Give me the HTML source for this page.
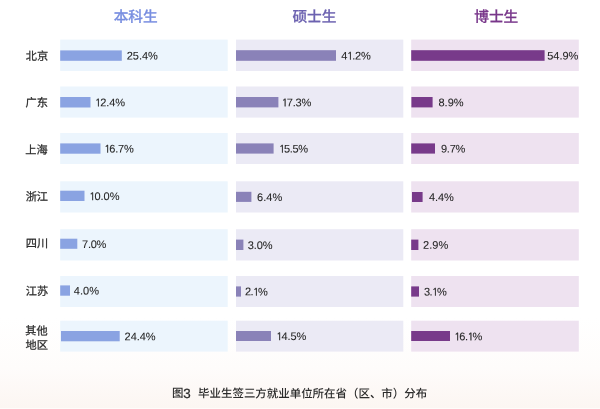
<!DOCTYPE html>
<html lang="zh-CN"><head><meta charset="utf-8"><title>图3 毕业生签三方就业单位所在省（区、市）分布</title>
<style>
html,body{margin:0;padding:0;}
body{width:600px;height:409px;overflow:hidden;position:relative;background:#fff;font-family:"Liberation Sans","Noto Sans CJK SC",sans-serif;color:#333;}
.page{position:absolute;left:0;top:0;width:600px;height:409px;overflow:hidden;background:linear-gradient(to bottom,#ffffff 0px,#ffffff 318px,#fefcfb 368px,#fcf6f2 407.5px,#fefcfa 408px,#fefcfa 409px);}
.chart{position:absolute;left:0;top:0;display:block;}
.val{position:absolute;left:0;top:0;transform-origin:0 0;font-size:11px;line-height:14px;height:14px;white-space:nowrap;color:#262626;-webkit-text-stroke:0.08px currentColor;}
.one{font-family:"NanumGothic",sans-serif;font-size:10.2px;-webkit-text-stroke:0.3px currentColor;margin-left:-0.2px;margin-right:-0.9px;}
.lab{position:absolute;left:0;top:0;transform-origin:0 0;font-size:11.2px;line-height:14px;white-space:nowrap;color:#2b2b2b;-webkit-text-stroke:0.25px currentColor;}
.hd{position:absolute;left:0;top:0;transform-origin:0 0;-webkit-text-stroke:0.25px currentColor;font-size:14.7px;line-height:20px;font-weight:500;white-space:nowrap;}
.n3{font-size:13.4px;line-height:1px;position:relative;top:0.5px;-webkit-text-stroke:0.25px currentColor;}
.cap{position:absolute;left:0;top:0;transform-origin:0 0;font-weight:500;font-size:11.46px;line-height:16px;white-space:nowrap;color:#2b2b2b;}
</style></head><body><div class="page">
<div class="hd" style="color:#788ee0;transform:translate(113.68px,6.77px) rotate(0.05deg);">本科生</div>
<div class="hd" style="color:#6c62b0;transform:translate(292.43px,6.83px) rotate(0.05deg);">硕士生</div>
<div class="hd" style="color:#78368a;transform:translate(474.22px,6.85px) rotate(0.05deg);">博士生</div>
<svg class="chart" width="600" height="409" viewBox="0 0 600 409">
<g fill="#ecf5fd"><rect x="60.2" y="39.6" width="167.5" height="31.4"/><rect x="60.2" y="86.5" width="167.5" height="31.1"/><rect x="60.2" y="133.0" width="167.5" height="31.0"/><rect x="60.2" y="181.3" width="167.5" height="31.2"/><rect x="60.2" y="229.2" width="167.5" height="31.3"/><rect x="60.2" y="276.0" width="167.5" height="31.0"/><rect x="60.2" y="320.7" width="167.5" height="30.9"/></g>
<g fill="#8aa3e2"><rect x="60.2" y="50.4" width="61.6" height="10.4"/><rect x="60.2" y="97.0" width="30.3" height="10.5"/><rect x="60.2" y="143.4" width="40.3" height="10.3"/><rect x="60.2" y="190.7" width="24.3" height="10.3"/><rect x="60.2" y="238.7" width="17.1" height="10.1"/><rect x="60.2" y="285.4" width="9.8" height="10.3"/><rect x="61.0" y="331.0" width="58.7" height="10.3"/></g>
<g fill="#ebeaf5"><rect x="236.0" y="39.6" width="167.3" height="31.4"/><rect x="236.0" y="86.5" width="167.3" height="31.1"/><rect x="236.0" y="133.0" width="167.3" height="31.0"/><rect x="236.0" y="181.3" width="167.3" height="31.2"/><rect x="236.0" y="229.2" width="167.3" height="31.3"/><rect x="236.0" y="276.0" width="167.3" height="31.0"/><rect x="236.0" y="320.7" width="167.3" height="30.9"/></g>
<g fill="#8a82b8"><rect x="236" y="50.2" width="100.0" height="10.6"/><rect x="236" y="97.0" width="42.4" height="10.4"/><rect x="236" y="143.4" width="37.6" height="10.2"/><rect x="236" y="191.8" width="15.4" height="10.1"/><rect x="236" y="239.6" width="7.4" height="10.4"/><rect x="236" y="286.4" width="5.0" height="10.2"/><rect x="236" y="331.0" width="35.0" height="10.0"/></g>
<g fill="#eee2f0"><rect x="411.2" y="39.6" width="167.6" height="31.4"/><rect x="411.2" y="86.5" width="167.6" height="31.1"/><rect x="411.2" y="133.0" width="167.6" height="31.0"/><rect x="411.2" y="181.3" width="167.6" height="31.2"/><rect x="411.2" y="229.2" width="167.6" height="31.3"/><rect x="411.2" y="276.0" width="167.6" height="31.0"/><rect x="411.2" y="320.7" width="167.6" height="30.9"/></g>
<g fill="#783a8a"><rect x="411.2" y="50.2" width="133.4" height="10.6"/><rect x="411.4" y="97.0" width="21.2" height="10.4"/><rect x="411.2" y="143.4" width="23.8" height="10.2"/><rect x="412.0" y="192.0" width="10.6" height="10.0"/><rect x="411.2" y="239.6" width="7.2" height="10.4"/><rect x="411.2" y="286.4" width="7.8" height="10.2"/><rect x="411.2" y="331.0" width="38.8" height="10.0"/></g>
</svg>
<div class="val" style="transform:translate(126.75px,48.56px) rotate(0.05deg);letter-spacing:-0.025px;">25.4%</div>
<div class="val" style="transform:translate(95.15px,95.35px) rotate(0.05deg);letter-spacing:-0.088px;"><span class="one">1</span>2.4%</div>
<div class="val" style="transform:translate(104.50px,141.59px) rotate(0.05deg);letter-spacing:-0.225px;"><span class="one">1</span>6.7%</div>
<div class="val" style="transform:translate(89.50px,188.91px) rotate(0.05deg);letter-spacing:-0.062px;"><span class="one">1</span>0.0%</div>
<div class="val" style="transform:translate(82.10px,236.90px) rotate(0.05deg);letter-spacing:-0.283px;">7.0%</div>
<div class="val" style="transform:translate(73.80px,283.60px) rotate(0.05deg);letter-spacing:0.033px;">4.0%</div>
<div class="val" style="transform:translate(124.55px,329.25px) rotate(0.05deg);letter-spacing:-0.025px;">24.4%</div>
<div class="val" style="transform:translate(341.35px,48.57px) rotate(0.05deg);letter-spacing:-0.213px;">4<span class="one">1</span>.2%</div>
<div class="val" style="transform:translate(281.95px,95.24px) rotate(0.05deg);letter-spacing:-0.225px;"><span class="one">1</span>7.3%</div>
<div class="val" style="transform:translate(279.10px,141.43px) rotate(0.05deg);letter-spacing:-0.288px;"><span class="one">1</span>5.5%</div>
<div class="val" style="transform:translate(257.05px,189.94px) rotate(0.05deg);letter-spacing:0.050px;">6.4%</div>
<div class="val" style="transform:translate(247.70px,237.90px) rotate(0.05deg);letter-spacing:-0.067px;">3.0%</div>
<div class="val" style="transform:translate(244.90px,284.37px) rotate(0.05deg);letter-spacing:-0.400px;">2.<span class="one">1</span>%</div>
<div class="val" style="transform:translate(276.50px,329.05px) rotate(0.05deg);letter-spacing:-0.087px;"><span class="one">1</span>4.5%</div>
<div class="val" style="transform:translate(547.25px,48.58px) rotate(0.05deg);letter-spacing:-0.025px;">54.9%</div>
<div class="val" style="transform:translate(438.50px,95.23px) rotate(0.05deg);letter-spacing:-0.000px;">8.9%</div>
<div class="val" style="transform:translate(440.90px,141.55px) rotate(0.05deg);letter-spacing:-0.217px;">9.7%</div>
<div class="val" style="transform:translate(429.10px,189.87px) rotate(0.05deg);letter-spacing:-0.117px;">4.4%</div>
<div class="val" style="transform:translate(423.05px,237.85px) rotate(0.05deg);letter-spacing:0.050px;">2.9%</div>
<div class="val" style="transform:translate(423.90px,284.38px) rotate(0.05deg);letter-spacing:-0.400px;">3.<span class="one">1</span>%</div>
<div class="val" style="transform:translate(454.50px,329.18px) rotate(0.05deg);letter-spacing:-0.337px;"><span class="one">1</span>6.<span class="one">1</span>%</div>
<div class="lab" style="transform:translate(25.74px,49.00px) rotate(0.05deg);">北京</div>
<div class="lab" style="transform:translate(25.63px,95.59px) rotate(0.05deg);">广东</div>
<div class="lab" style="transform:translate(25.26px,142.76px) rotate(0.05deg);">上海</div>
<div class="lab" style="transform:translate(25.65px,189.55px) rotate(0.05deg);">浙江</div>
<div class="lab" style="transform:translate(25.70px,236.33px) rotate(0.05deg);">四川</div>
<div class="lab" style="transform:translate(25.72px,283.92px) rotate(0.05deg);">江苏</div>
<div class="lab" style="transform:translate(25.35px,323.62px) rotate(0.05deg);">其他</div>
<div class="lab" style="transform:translate(25.54px,338.08px) rotate(0.05deg);">地区</div>
<div class="cap" style="letter-spacing:-0.3px;transform:translate(172.01px,385.06px) rotate(0.05deg);">图<span class="n3">3</span></div>
<div class="cap" style="transform:translate(198.10px,385.33px) rotate(0.05deg);">毕业生签三方就业单位所在省（区、市）分布</div>
</div></body></html>
